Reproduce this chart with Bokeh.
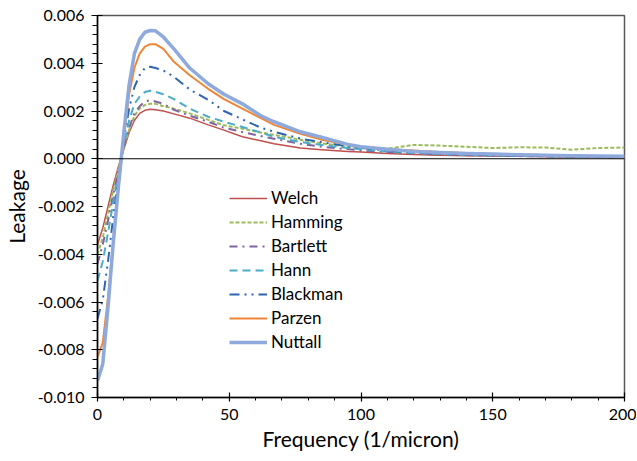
import numpy as np
from bokeh.plotting import figure
from bokeh.models import (Range1d, FixedTicker, NumeralTickFormatter, Span,
                          Legend, LegendItem)
from bokeh.embed import file_html
from bokeh.resources import INLINE

# ---- data ----
freq = [0, 2, 4, 6, 8, 10, 12, 14, 16, 18, 20, 22, 25, 29, 35, 42, 48, 55, 62, 67,
        77, 85, 95, 100, 110, 120, 130, 140, 150, 160, 170, 180, 190, 200]

welch = [-0.0036, -0.0029, -0.0020, -0.0011, -0.0003, 0.0004, 0.0011, 0.0016, 0.0019,
         0.00203, 0.00207, 0.00205, 0.0020, 0.00188, 0.0017, 0.00142, 0.0012, 0.00092,
         0.00075, 0.00063, 0.00045, 0.00038, 0.0003,
         0.00028, 0.00022, 0.00018, 0.00015, 0.00013, 0.00011, 0.0001, 0.00008, 0.00007,
         0.00006, 0.00005]
hamming = [-0.0040, -0.0033, -0.0023, -0.0013, -0.0004, 0.0005, 0.0012, 0.0018, 0.0021,
           0.00225, 0.0023, 0.0023, 0.0022, 0.0021, 0.0019, 0.00163, 0.0014, 0.00126,
           0.0011, 0.0010, 0.0008, 0.00065, 0.0005,
           0.00045, 0.00042, 0.00058, 0.00055, 0.0005, 0.00045, 0.00048, 0.00047, 0.00038,
           0.00045, 0.00047]
bartlett = [-0.0044, -0.0036, -0.0026, -0.0015, -0.0005, 0.0005, 0.0013, 0.0019, 0.0022,
            0.0024, 0.00245, 0.0024, 0.0023, 0.00205, 0.0018, 0.00155, 0.0013, 0.00112,
            0.00095, 0.00084, 0.00063, 0.0005, 0.0004,
            0.00035, 0.00028, 0.00022, 0.00018, 0.00015, 0.00013, 0.00011, 0.0001, 0.00008,
            0.00007, 0.00006]
hann = [-0.0051, -0.0043, -0.0031, -0.0018, -0.0006, 0.0006, 0.0016, 0.0023, 0.0026,
        0.0028, 0.00285, 0.0028, 0.0027, 0.0025, 0.0021, 0.00176, 0.00155, 0.00133,
        0.0011, 0.00092, 0.0007, 0.00058, 0.00045,
        0.0004, 0.0003, 0.00024, 0.0002, 0.00016, 0.00014, 0.00012, 0.0001, 0.00009,
        0.00008, 0.00007]
blackman = [-0.0067, -0.0059, -0.0043, -0.0024, -0.0008, 0.0008, 0.0021, 0.0030, 0.0035,
            0.0038, 0.00385, 0.0038, 0.0037, 0.00343, 0.0029, 0.00247, 0.0020, 0.00165,
            0.0013, 0.00113, 0.00084, 0.0007, 0.00052,
            0.00045, 0.00035, 0.00027, 0.00022, 0.00018, 0.00015, 0.00013, 0.00011, 0.0001,
            0.00009, 0.00008]
parzen = [-0.0083, -0.0077, -0.0058, -0.0034, -0.0012, 0.0009, 0.0027, 0.0038, 0.0044,
          0.0047, 0.0048, 0.0048, 0.0046, 0.00406, 0.0035, 0.00293, 0.0025, 0.0021,
          0.0017, 0.00142, 0.00105, 0.0008, 0.0006,
          0.0005, 0.0004, 0.00035, 0.00028, 0.00024, 0.0002, 0.00018, 0.00016, 0.00014,
          0.00012, 0.0001]
nuttall = [-0.0093, -0.0086, -0.0062, -0.0035, -0.0011, 0.0011, 0.0031, 0.0044, 0.0050,
           0.0053, 0.00537, 0.00536, 0.0051, 0.0046, 0.0038, 0.00314, 0.0027, 0.0023,
           0.0018, 0.00155, 0.00113, 0.0009, 0.0006,
           0.0005, 0.0004, 0.0003, 0.00026, 0.00022, 0.0002, 0.00017, 0.00015, 0.00013,
           0.00011, 0.0001]

x_ticks = [0, 50, 100, 150, 200]
y_ticks = [-0.010, -0.008, -0.006, -0.004, -0.002, 0.000, 0.002, 0.004, 0.006]

series = [
    ("Welch", welch, "#C0504D", 1.5, "solid"),
    ("Hamming", hamming, "#9BBB59", 2.0, "4 2"),
    ("Bartlett", bartlett, "#8064A2", 2.0, "8 5 2 5"),
    ("Hann", hann, "#4BACC6", 2.0, "8 5"),
    ("Blackman", blackman, "#2E65AE", 2.0, "10 5 2 5 2 5"),
    ("Parzen", parzen, "#F08536", 2.0, "solid"),
    ("Nuttall", nuttall, "#8EA9DB", 3.5, "solid"),
]

FONT = "Lato"

p = figure(width=636, height=458, output_backend="svg", toolbar_location=None,
           x_range=Range1d(0, 200), y_range=Range1d(-0.010, 0.006),
           min_border_left=96, min_border_right=12, min_border_top=15,
           min_border_bottom=61)
p.xgrid.visible = False
p.ygrid.visible = False
p.outline_line_color = "#595959"
p.outline_line_width = 1.5
p.background_fill_color = "white"
p.border_fill_color = "white"

# zero line
p.add_layout(Span(location=0, dimension="width", line_color="black", line_width=1.2))

items = []
for name, ys, col, lw, dash in series:
    r = p.line(freq, ys, line_color=col, line_width=lw, line_dash=dash,
               line_join="round", line_cap="butt")
    items.append(LegendItem(label=name, renderers=[r]))

# axes
x_minor = [float(v) for v in np.arange(0, 201, 10)]
y_minor = [round(float(v), 5) for v in np.arange(-0.010, 0.00601, 0.0004)]
p.xaxis.ticker = FixedTicker(ticks=x_ticks, minor_ticks=x_minor)
p.yaxis.ticker = FixedTicker(ticks=y_ticks, minor_ticks=y_minor)
p.yaxis.formatter = NumeralTickFormatter(format="0.000")

for ax in (p.xaxis[0], p.yaxis[0]):
    ax.axis_line_color = "black"
    ax.axis_line_width = 1.5
    ax.major_tick_line_color = "black"
    ax.minor_tick_line_color = "black"
    ax.major_tick_line_width = 1.2
    ax.minor_tick_line_width = 1
    ax.major_label_text_font = FONT
    ax.major_label_text_font_size = "16px"
    ax.major_label_text_color = "black"
    ax.axis_label_text_font = FONT
    ax.axis_label_text_font_size = "21px"
    ax.axis_label_text_font_style = "normal"
    ax.axis_label_text_color = "black"

p.xaxis.axis_label = "Frequency (1/micron)"
p.yaxis.axis_label = "Leakage"
p.xaxis.major_tick_in = 5
p.xaxis.major_tick_out = 4
p.xaxis.minor_tick_in = 0
p.xaxis.minor_tick_out = 3
p.yaxis.major_tick_in = 5
p.yaxis.major_tick_out = 6
p.yaxis.minor_tick_in = 0
p.yaxis.minor_tick_out = 5
p.xaxis.major_label_standoff = 7
p.yaxis.major_label_standoff = 7
p.xaxis.axis_label_standoff = 3
p.yaxis.axis_label_standoff = 6

legend = Legend(items=items, location=(132, 45), orientation="vertical",
                padding=0, margin=0, spacing=3, glyph_width=38, glyph_height=20,
                label_height=20, label_standoff=4,
                label_text_font=FONT, label_text_font_size="17px",
                label_text_color="black",
                border_line_alpha=0, background_fill_alpha=0)
p.add_layout(legend, "center")

open("out.html", "w").write(file_html(p, INLINE))
